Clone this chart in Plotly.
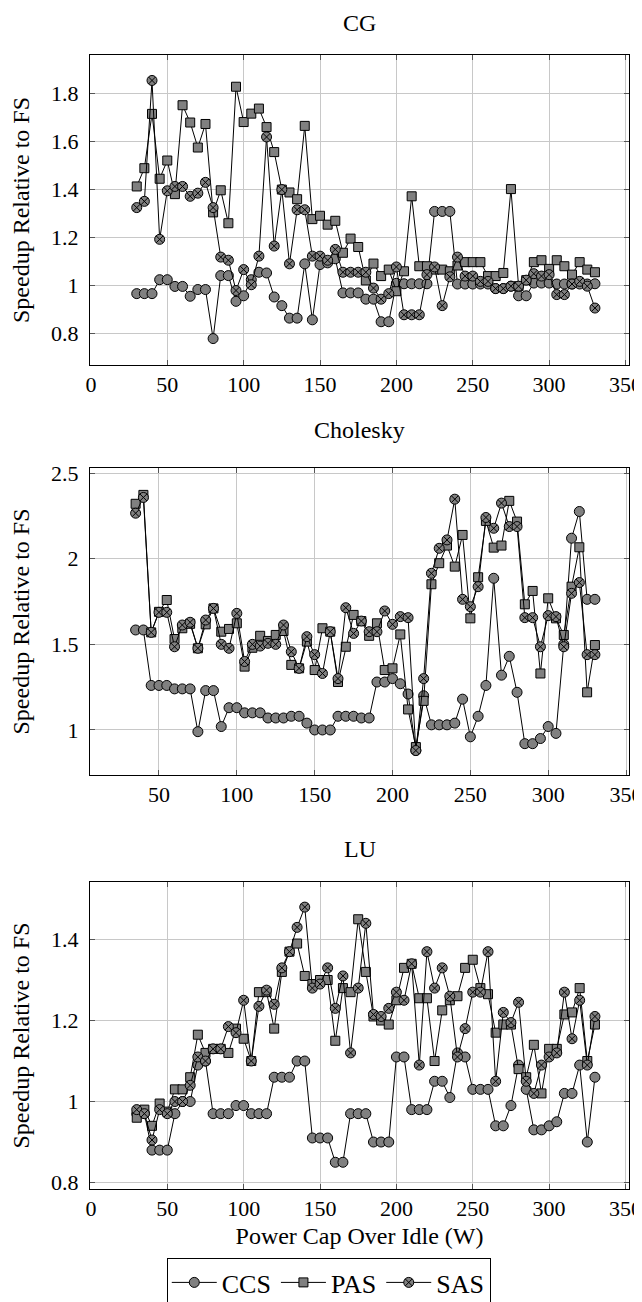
import plotly.graph_objects as go
from plotly.subplots import make_subplots

# =========================================================
# DONNÉES
# =========================================================
x_cg = list(range(30, 335, 5))
x_chol = list(range(35, 335, 5))
x_lu = list(range(30, 335, 5))

cg_ccs = [0.967, 0.967, 0.967, 1.025, 1.025, 0.997, 0.997, 0.956, 0.984, 0.984,
          0.78, 1.042, 1.042, 0.935, 0.958, 1.025, 1.056, 1.053, 0.953, 0.917,
          0.865, 0.865, 1.091, 0.858, 1.088, 1.095, 1.112, 0.97, 0.97, 0.97,
          0.944, 0.944, 0.85, 0.85, 1.01, 1.008, 1.008, 1.008, 1.008, 1.309,
          1.309, 1.309, 1.007, 1.007, 1.007, 1.007, 1.007, 0.988, 0.988, 0.998,
          0.958, 0.958, 1.011, 1.011, 1.011, 1.007, 1.007, 1.007, 1.007, 1.007,
          1.008]
cg_pas = [1.413, 1.489, 1.715, 1.445, 1.521, 1.381, 1.751, 1.679, 1.575, 1.673,
          1.305, 1.397, 1.26, 1.828, 1.681, 1.716, 1.737, 1.66, 1.556, 1.40,
          1.388, 1.36, 1.665, 1.277, 1.291, 1.254, 1.27, 1.137, 1.196, 1.161,
          1.022, 1.092, 1.04, 1.067, 0.977, 1.06, 1.372, 1.081, 1.081, 1.067,
          1.067, 1.06, 1.084, 1.098, 1.098, 1.098, 1.04, 1.04, 1.053, 1.402,
          0.998, 1.023, 1.098, 1.106, 1.07, 1.106, 1.081, 1.046, 1.098, 1.067,
          1.056]
cg_sas = [1.325, 1.351, 1.854, 1.193, 1.395, 1.413, 1.413, 1.372, 1.385, 1.43,
          1.325, 1.119, 1.106, 0.98, 1.067, 1.004, 1.123, 1.619, 1.165, 1.40,
          1.091, 1.316, 1.316, 1.123, 1.123, 1.106, 1.151, 1.056, 1.056, 1.056,
          1.056, 0.99, 0.944, 0.967, 1.078, 0.879, 0.879, 0.879, 1.046, 1.078,
          0.917, 1.037, 1.119, 1.04, 1.04, 1.018, 1.018, 0.988, 0.988, 0.998,
          0.998, 1.023, 1.05, 1.04, 1.046, 0.963, 0.963, 1.007, 1.018, 0.998,
          0.907]

chol_ccs = [1.584, 1.584, 1.26, 1.26, 1.26, 1.24, 1.24, 1.24, 0.99, 1.23,
            1.23, 1.02, 1.13, 1.13, 1.10, 1.10, 1.10, 1.07, 1.07, 1.07,
            1.08, 1.08, 1.04, 1.0, 1.0, 1.0, 1.08, 1.08, 1.08, 1.07,
            1.07, 1.28, 1.28, 1.30, 1.27, 1.21, 0.88, 1.20, 1.03, 1.03,
            1.03, 1.04, 1.18, 0.96, 1.08, 1.26, 1.886, 1.32, 1.43, 1.22,
            0.92, 0.92, 0.95, 1.02, 0.98, 1.5, 2.12, 2.276, 1.763, 1.763]
chol_pas = [2.321, 2.373, 1.57, 1.69, 1.759, 1.531, 1.594, 1.62, 1.477, 1.617,
            1.71, 1.574, 1.59, 1.623, 1.37, 1.48, 1.55, 1.52, 1.555, 1.578,
            1.38, 1.36, 1.516, 1.35, 1.594, 1.574, 1.28, 1.486, 1.672, 1.636,
            1.55, 1.623, 1.35, 1.36, 1.558, 1.12, 0.9, 1.17, 1.851, 1.974,
            2.077, 1.954, 2.139, 1.652, 1.892, 2.221, 2.065, 2.077, 2.338, 2.217,
            1.734, 1.812, 1.33, 1.769, 1.652, 1.555, 1.837, 2.067, 1.22, 1.496]
chol_sas = [2.266, 2.358, 1.57, 1.687, 1.687, 1.486, 1.613, 1.629, 1.477, 1.642,
            1.71, 1.5, 1.477, 1.681, 1.40, 1.50, 1.49, 1.506, 1.50, 1.613,
            1.457, 1.36, 1.545, 1.44, 1.33, 1.574, 1.30, 1.714, 1.564, 1.636,
            1.574, 1.574, 1.695, 1.617, 1.662, 1.656, 0.88, 1.30, 1.915, 2.061,
            2.11, 2.348, 1.763, 1.72, 1.837, 2.241, 2.178, 2.325, 2.188, 2.188,
            1.656, 1.656, 1.486, 1.668, 1.662, 1.486, 1.798, 1.861, 1.44, 1.44]

lu_ccs = [0.97, 0.97, 0.88, 0.88, 0.88, 0.97, 1.00, 1.00, 1.09, 1.10,
          0.97, 0.97, 0.97, 0.99, 0.99, 0.97, 0.97, 0.97, 1.06, 1.06,
          1.06, 1.10, 1.10, 0.91, 0.91, 0.91, 0.85, 0.85, 0.97, 0.97,
          0.97, 0.90, 0.90, 0.90, 1.11, 1.11, 0.98, 0.98, 0.98, 1.05,
          1.05, 1.01, 1.12, 1.11, 1.03, 1.03, 1.03, 0.94, 0.94, 0.99,
          1.09, 1.03, 0.93, 0.93, 0.94, 0.95, 1.02, 1.02, 1.09, 0.90,
          1.06]
lu_pas = [0.96, 0.98, 0.94, 0.995, 0.975, 1.03, 1.03, 1.06, 1.165, 1.12,
          1.13, 1.13, 1.12, 1.18, 1.155, 1.10, 1.27, 1.27, 1.18, 1.32,
          1.37, 1.39, 1.31, 1.29, 1.30, 1.30, 1.15, 1.28, 1.27, 1.45,
          1.32, 1.21, 1.20, 1.19, 1.25, 1.33, 1.34, 1.255, 1.255, 1.10,
          1.225, 1.25, 1.26, 1.33, 1.35, 1.28, 1.265, 1.17, 1.19, 1.19,
          1.08, 1.06, 1.14, 1.02, 1.13, 1.13, 1.215, 1.22, 1.28, 1.10,
          1.19]
lu_sas = [0.98, 0.97, 0.905, 0.98, 0.97, 1.00, 1.00, 1.04, 1.11, 1.10,
          1.13, 1.13, 1.185, 1.17, 1.25, 1.10, 1.235, 1.275, 1.24, 1.33,
          1.37, 1.43, 1.48, 1.28, 1.29, 1.33, 1.23, 1.31, 1.12, 1.28,
          1.44, 1.215, 1.21, 1.23, 1.27, 1.25, 1.34, 1.09, 1.37, 1.28,
          1.33, 1.26, 1.11, 1.18, 1.27, 1.27, 1.37, 1.05, 1.22, 1.195,
          1.245, 1.05, 1.02, 1.09, 1.11, 1.12, 1.27, 1.155, 1.25, 1.09,
          1.21]

series_names = ["CCS", "PAS", "SAS"]
symbols = ["circle", "square", "circle-x"]
sizes = [10, 9, 10]

panels = [
    ("CG", x_cg, [cg_ccs, cg_pas, cg_sas]),
    ("Cholesky", x_chol, [chol_ccs, chol_pas, chol_sas]),
    ("LU", x_lu, [lu_ccs, lu_pas, lu_sas]),
]

FONT = "Times New Roman, Liberation Serif, serif"

fig = make_subplots(rows=3, cols=1)

for row, (title, xs, ys_list) in enumerate(panels, start=1):
    for k, ys in enumerate(ys_list):
        fig.add_trace(go.Scatter(
            x=xs, y=ys,
            mode="lines+markers",
            name=series_names[k],
            legendgroup=series_names[k],
            showlegend=(row == 3),
            line=dict(color="black", width=1),
            marker=dict(symbol=symbols[k], size=sizes[k], color="#808080",
                        line=dict(color="black", width=1)),
        ), row=row, col=1)

# la page a une marge de 8 px : figure 634x1294, positions en px de la figure
W, H, TOP, BOT = 634, 1294, 47, 113
ph = H - TOP - BOT


def ydom(top_px, bot_px):
    return [1 - (bot_px - TOP) / ph, 1 - (top_px - TOP) / ph]


domains = [ydom(47, 357), ydom(460, 767), ydom(874, 1181)]
yranges = [[0.67, 1.96], [0.737, 2.53], [0.784, 1.542]]
ytick_vals = [[0.8, 1, 1.2, 1.4, 1.6, 1.8], [1, 1.5, 2, 2.5], [0.8, 1, 1.2, 1.4]]
xranges = [[-0.6, 352.3], [5.7, 351.9], [-0.6, 352.3]]
xtick_vals = [list(range(0, 351, 50)), list(range(50, 351, 50)), list(range(0, 351, 50))]
title_px = [15, 422, 841]

axis_style = dict(
    showline=True, linecolor="black", linewidth=1, mirror="allticks",
    ticks="inside", ticklen=5, tickcolor="#555555",
    showgrid=True, gridcolor="#c8c8c8", gridwidth=1, zeroline=False,
    automargin=False, ticklabeloverflow="allow",
    tickfont=dict(family=FONT, size=22, color="black"),
)

for i in range(3):
    fig.update_yaxes(domain=domains[i], range=yranges[i], tickvals=ytick_vals[i],
                     ticklabelstandoff=6,
                     title=dict(text="Speedup Relative to FS",
                                font=dict(family=FONT, size=24, color="black"),
                                standoff=14),
                     row=i + 1, col=1, **axis_style)
    fig.update_xaxes(range=xranges[i], tickvals=xtick_vals[i],
                     row=i + 1, col=1, **axis_style)
    fig.add_annotation(text=panels[i][0], xref="paper", yref="paper",
                       x=0.5, y=1 - (title_px[i] - TOP) / ph,
                       xanchor="center", yanchor="middle", showarrow=False,
                       font=dict(family=FONT, size=24, color="black"))

fig.update_xaxes(title=dict(text="Power Cap Over Idle (W)",
                            font=dict(family=FONT, size=24, color="black"),
                            standoff=6),
                 row=3, col=1)

fig.update_layout(
    width=W, height=H,
    margin=dict(l=82, r=13, t=TOP, b=BOT, autoexpand=False),
    plot_bgcolor="white", paper_bgcolor="white",
    font=dict(family=FONT, size=22, color="black"),
    legend=dict(orientation="h", x=0.443, y=1 - (1250 - TOP) / ph,
                xanchor="center", yanchor="top",
                bordercolor="black", borderwidth=1,
                font=dict(family=FONT, size=26, color="black"),
                itemwidth=45, tracegroupgap=0),
)

fig.write_html("out.html")
